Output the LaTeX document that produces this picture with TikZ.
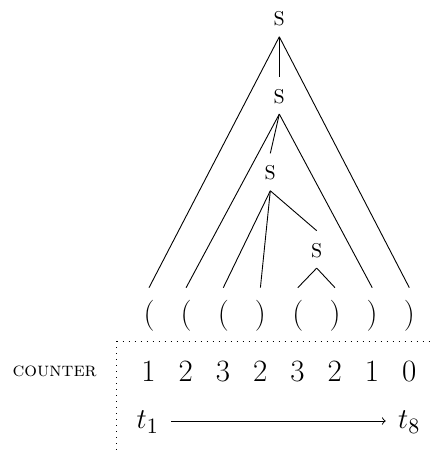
\documentclass[tikz,border=0pt]{standalone}
\begin{document}
\begin{tikzpicture}[x=0.5pt,y=-0.5pt,
  snode/.style={anchor=base,font=\fontsize{10}{12}\selectfont,inner xsep=2pt,inner ysep=0pt,text height=13.1pt,text depth=5.2pt},
  pnode/.style={anchor=base,font=\fontsize{15.5}{18}\selectfont,inner xsep=2pt,inner ysep=0pt,text height=17.6pt,text depth=3.9pt},
  dnode/.style={anchor=base,font=\fontsize{15.5}{18}\selectfont,inner sep=0pt},
  tnode/.style={anchor=base,font=\fontsize{15.5}{18}\selectfont,inner xsep=6pt,inner ysep=0pt},
  edge/.style={line width=0.45pt},
  sep/.style={line width=0.45pt,dash pattern=on 0.5pt off 2.5pt}]
\useasboundingbox (0,0) rectangle (433,453);
% S nodes
\node[snode] (s1) at (279.3,26) {S};
\node[snode] (s2) at (279.3,103.3) {S};
\node[snode] (s3) at (270.3,180) {S};
\node[snode] (s4) at (316.7,257.3) {S};
% parentheses
\node[pnode] (p1) at (149.0,323.3) {(};
\node[pnode] (p2) at (186.1,323.3) {(};
\node[pnode] (p3) at (223.3,323.3) {(};
\node[pnode] (p4) at (260.4,323.3) {)};
\node[pnode] (p5) at (297.8,323.3) {(};
\node[pnode] (p6) at (335.0,323.3) {)};
\node[pnode] (p7) at (372.2,323.3) {)};
\node[pnode] (p8) at (409.3,323.3) {)};
% tree edges
\draw[edge] (s1.south) -- (p1.north);
\draw[edge] (s1.south) -- (s2.north);
\draw[edge] (s1.south) -- (p8.north);
\draw[edge] (s2.south) -- (p2.north);
\draw[edge] (s2.south) -- (s3.north);
\draw[edge] (s2.south) -- (p7.north);
\draw[edge] (s3.south) -- (p3.north);
\draw[edge] (s3.south) -- (p4.north);
\draw[edge] (s3.south) -- (s4.north);
\draw[edge] (s4.south) -- (p5.north);
\draw[edge] (s4.south) -- (p6.north);
% separator
\coordinate (c0) at (116.5,341);
\coordinate (cr) at (433,341);
\coordinate (cb) at (116.5,453);
\draw[sep] (c0) -- (cr);
\draw[sep] (c0) -- (cb);
% counter row
\node[anchor=base,font=\fontsize{10}{12}\selectfont,inner sep=0pt] (lab) at (54.7,376.7) {\textsc{counter}};
\node[dnode] (d1) at (148.6,381.7) {1};
\node[dnode] (d2) at (185.8,381.7) {2};
\node[dnode] (d3) at (223.0,381.7) {3};
\node[dnode] (d4) at (260.2,381.7) {2};
\node[dnode] (d5) at (297.6,381.7) {3};
\node[dnode] (d6) at (334.8,381.7) {2};
\node[dnode] (d7) at (372.0,381.7) {1};
\node[dnode] (d8) at (409.2,381.7) {0};
% time row
\node[tnode] (t1) at (147.8,428.8) {$t_1$};
\node[tnode] (t8) at (409.2,428.8) {$t_8$};
\draw[edge,->] ([yshift=3.9pt]t1.base east) -- ([yshift=3.9pt]t8.base west);
\end{tikzpicture}
\end{document}
